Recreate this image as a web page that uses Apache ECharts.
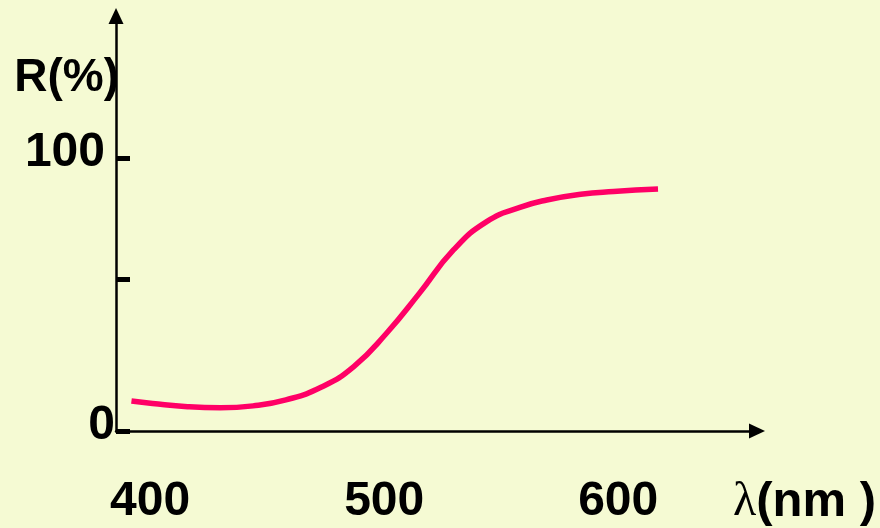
<!DOCTYPE html>
<html>
<head>
<meta charset="utf-8">
<script src="https://cdn.jsdelivr.net/npm/echarts@6/dist/echarts.min.js"></script>
<style>
  html, body { margin: 0; padding: 0; background: #f5fad3; }
  #chart { width: 880px; height: 528px; }
</style>
</head>
<body>
<div id="chart"></div>
<script>
// Wavelength (nm) and reflectance R (%)
const wavelength = [392, 401, 416, 430, 444, 458, 473, 487, 501, 515, 529.6, 543.8, 558, 569.5, 584, 598, 617];
const reflectance = [11.0, 10.1, 8.9, 8.5, 9.2, 11.4, 16.0, 23.6, 35.8, 50.4, 66.3, 76.7, 81.9, 84.6, 86.7, 87.7, 88.6];
const xLabelValues = [400, 500, 600];
const yTickValues = [0, 55.7, 100];
const yLabelValues = [0, 100];
const yName = 'R(%)';

const FONT = 'Liberation Sans';
const chart = echarts.init(document.getElementById('chart'), null, { renderer: 'canvas' });
chart.setOption({
  backgroundColor: '#f5fad3',
  animation: false,
  grid: { left: 116, right: 123, top: 16, bottom: 97, containLabel: false },
  xAxis: {
    type: 'value',
    min: 385.4,
    max: 659.3,
    splitLine: { show: false },
    axisTick: { show: false },
    axisLine: {
      show: true, onZero: false,
      symbol: ['none', 'triangle'], symbolSize: [15, 16],
      lineStyle: { color: '#000', width: 2.5 }
    },
    axisLabel: {
      customValues: xLabelValues,
      margin: 47,
      color: '#000', fontFamily: FONT, fontWeight: 'bold', fontSize: 48
    },
    name: '{l|λ}(nm )',
    nameLocation: 'end',
    nameGap: -24,
    nameTextStyle: {
      align: 'left', verticalAlign: 'middle',
      padding: [142, 0, 0, 0],
      color: '#000', fontFamily: FONT, fontWeight: 'bold', fontSize: 49,
      rich: {
        l: { fontFamily: 'Liberation Serif', fontWeight: 'normal', fontSize: 48, color: '#000' }
      }
    }
  },
  yAxis: {
    type: 'value',
    min: 0,
    max: 152,
    splitLine: { show: false },
    axisLine: {
      show: true, onZero: false,
      symbol: ['none', 'triangle'], symbolSize: [15, 16],
      lineStyle: { color: '#000', width: 2.5 }
    },
    axisTick: {
      show: true, inside: true, length: 14,
      customValues: yTickValues,
      lineStyle: { color: '#000', width: 5 }
    },
    axisLabel: {
      customValues: yLabelValues,
      margin: 1,
      formatter: function (v) { return v === 100 ? '{a|100}' : '{b|0}'; },
      rich: {
        a: { padding: [0, 10, 11, 0], color: '#000', fontFamily: FONT, fontWeight: 'bold', fontSize: 48 },
        b: { padding: [0, 0, 11, 0], color: '#000', fontFamily: FONT, fontWeight: 'bold', fontSize: 48 }
      }
    },
    name: yName,
    nameLocation: 'end',
    nameGap: -62,
    nameTextStyle: {
      align: 'right', verticalAlign: 'middle',
      padding: [0, -3, 0, 0],
      color: '#000', fontFamily: FONT, fontWeight: 'bold', fontSize: 46
    }
  },
  series: [{
    type: 'line',
    data: wavelength.map((w, i) => [w, reflectance[i]]),
    smooth: 0.5,
    showSymbol: false,
    lineStyle: { color: '#ff0066', width: 5.5, cap: 'butt' }
  }]
});
</script>
</body>
</html>
